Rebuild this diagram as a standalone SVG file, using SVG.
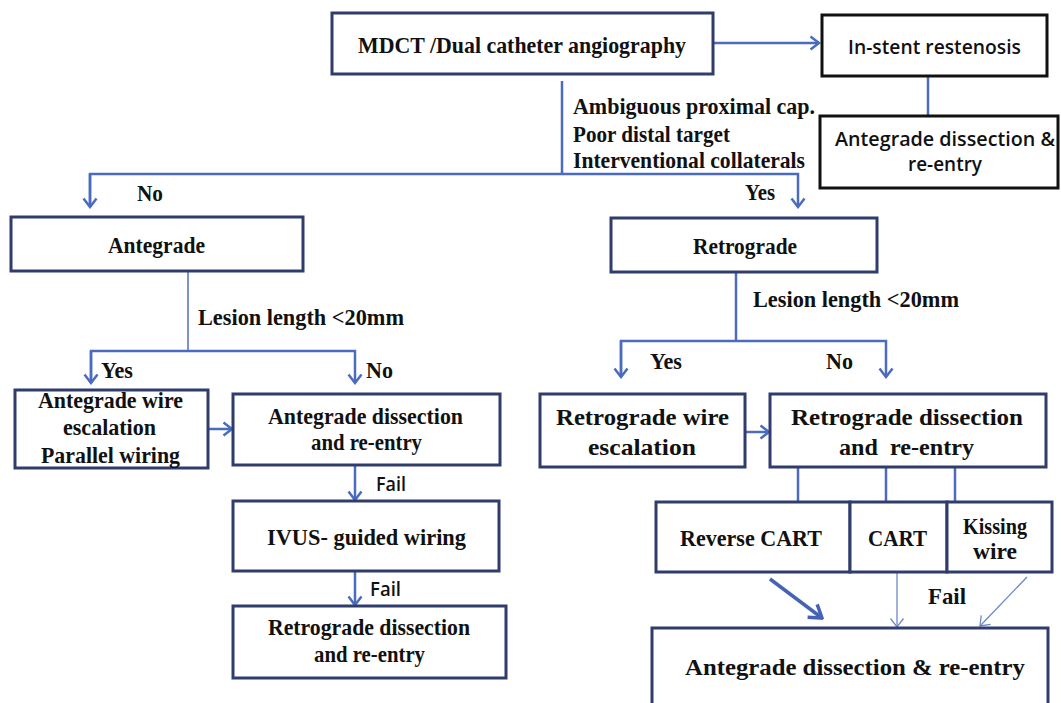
<svg xmlns="http://www.w3.org/2000/svg" width="1061" height="703" viewBox="0 0 1061 703">
<defs>
<marker id="ah" markerUnits="userSpaceOnUse" markerWidth="12" markerHeight="16" viewBox="0 0 12 16" refX="10" refY="8" orient="auto">
<path d="M1.5,1.5 L10,8 L1.5,14.5" fill="none" stroke="#4a6bbf" stroke-width="2.5"/>
</marker>
<marker id="ahthin" markerUnits="userSpaceOnUse" markerWidth="12" markerHeight="16" viewBox="0 0 12 16" refX="10" refY="8" orient="auto">
<path d="M1.5,1.5 L10,8 L1.5,14.5" fill="none" stroke="#6f88c8" stroke-width="1.3"/>
</marker>
<marker id="ahbig" markerUnits="userSpaceOnUse" markerWidth="16" markerHeight="20" viewBox="0 0 16 20" refX="14" refY="10" orient="auto">
<path d="M2,2 L14,10 L2,18" fill="none" stroke="#4562b5" stroke-width="3.5"/>
</marker>
</defs>
<style>
.box{fill:#fff;stroke:#2f3c6c;stroke-width:3}
.bbox{fill:#fff;stroke:#111;stroke-width:3}
.c{fill:none;stroke:#4a6bbf;stroke-width:2.5}
.ct{fill:none;stroke:#6f88c8;stroke-width:1.3}
.t{font-family:"Liberation Serif","Times New Roman",serif;font-weight:bold;font-size:23.5px;fill:#111}
.s{font-family:"Open Sans","Liberation Sans",sans-serif;font-weight:600;font-size:19.5px;fill:#111}
.m{text-anchor:middle}
</style>
<rect width="1061" height="703" fill="#fff"/>

<g id="connectors">
<line class="c" x1="713" y1="43" x2="819" y2="43" marker-end="url(#ah)"/>
<line class="c" x1="928" y1="76" x2="928" y2="116"/>
<line class="c" x1="562" y1="81" x2="562" y2="174"/>
<polyline class="c" points="90,207 90,174 798,174 798,207" marker-end="url(#ah)"/>
<line class="c" x1="90" y1="174" x2="90" y2="207" marker-end="url(#ah)"/>
<line class="ct" x1="188" y1="271" x2="188" y2="351" style="stroke-width:1.8"/>
<polyline class="c" points="91,383 91,351 355,351 355,383" marker-end="url(#ah)"/>
<line class="c" x1="91" y1="351" x2="91" y2="383" marker-end="url(#ah)"/>
<line class="c" x1="208" y1="429" x2="232" y2="429" marker-end="url(#ah)"/>
<line class="c" x1="355" y1="465" x2="355" y2="500" marker-end="url(#ah)"/>
<line class="c" x1="355" y1="571" x2="355" y2="605" marker-end="url(#ah)"/>
<line class="c" x1="736" y1="272" x2="736" y2="341"/>
<polyline class="c" points="621,377 621,341 886,341 886,377" marker-end="url(#ah)"/>
<line class="c" x1="621" y1="341" x2="621" y2="377" marker-end="url(#ah)"/>
<line class="c" x1="745" y1="432" x2="769" y2="432" marker-end="url(#ah)"/>
<line class="c" x1="798" y1="467" x2="798" y2="502"/>
<line class="c" x1="886" y1="467" x2="886" y2="502"/>
<line class="c" x1="955" y1="467" x2="955" y2="502"/>
<line fill="none" stroke="#4562b5" stroke-width="3.5" x1="770" y1="579" x2="822" y2="618" marker-end="url(#ahbig)"/>
<line class="ct" x1="897" y1="572" x2="897" y2="627" marker-end="url(#ahthin)"/>
<line class="ct" x1="1027" y1="577" x2="980" y2="626" marker-end="url(#ahthin)"/>
</g>

<g id="mdct">
<rect class="box" x="332" y="13" width="381" height="61"/>
<text class="t m" x="522" y="53" textLength="328" lengthAdjust="spacingAndGlyphs">MDCT /Dual catheter angiography</text>
</g>
<g id="instent">
<rect class="bbox" x="822" y="15" width="225" height="61"/>
<text class="s m" x="934.5" y="54" textLength="173" lengthAdjust="spacingAndGlyphs">In-stent restenosis</text>
</g>
<g id="adre-top">
<rect class="bbox" x="820" y="116" width="238" height="72"/>
<text class="s m" x="945" y="146" textLength="220" lengthAdjust="spacingAndGlyphs">Antegrade dissection &amp;</text>
<text class="s m" x="945" y="171" textLength="74" lengthAdjust="spacingAndGlyphs">re-entry</text>
</g>
<g id="criteria">
<text class="t" x="573" y="114" textLength="242" lengthAdjust="spacingAndGlyphs">Ambiguous proximal cap.</text>
<text class="t" x="573" y="142" textLength="157" lengthAdjust="spacingAndGlyphs">Poor distal target</text>
<text class="t" x="573" y="168" textLength="232" lengthAdjust="spacingAndGlyphs">Interventional collaterals</text>
</g>
<g id="labels">
<text class="t" x="137" y="201" textLength="26" lengthAdjust="spacingAndGlyphs">No</text>
<text class="t" x="745" y="200" textLength="30" lengthAdjust="spacingAndGlyphs">Yes</text>
<text class="t" x="198" y="325" textLength="206" lengthAdjust="spacingAndGlyphs">Lesion length &lt;20mm</text>
<text class="t" x="753" y="307" textLength="206" lengthAdjust="spacingAndGlyphs">Lesion length &lt;20mm</text>
<text class="t" x="101" y="378" textLength="32" lengthAdjust="spacingAndGlyphs">Yes</text>
<text class="t" x="366" y="378" textLength="27" lengthAdjust="spacingAndGlyphs">No</text>
<text class="t" x="650" y="369" textLength="32" lengthAdjust="spacingAndGlyphs">Yes</text>
<text class="t" x="826" y="369" textLength="27" lengthAdjust="spacingAndGlyphs">No</text>
<text class="s" x="376" y="491" font-size="18" textLength="30" lengthAdjust="spacingAndGlyphs">Fail</text>
<text class="s" x="370" y="596" font-size="18" textLength="31" lengthAdjust="spacingAndGlyphs">Fail</text>
<text class="t" x="928" y="604" font-size="24" textLength="38" lengthAdjust="spacingAndGlyphs">Fail</text>
</g>
<g id="antegrade">
<rect class="box" x="11" y="217" width="292" height="54"/>
<text class="t m" x="156.5" y="253" textLength="97" lengthAdjust="spacingAndGlyphs">Antegrade</text>
</g>
<g id="retrograde">
<rect class="box" x="611" y="218" width="266" height="54"/>
<text class="t m" x="745" y="254" textLength="104" lengthAdjust="spacingAndGlyphs">Retrograde</text>
</g>
<g id="awe">
<rect class="box" x="15" y="390" width="193" height="78"/>
<text class="t m" x="110.5" y="408" textLength="145" lengthAdjust="spacingAndGlyphs">Antegrade wire</text>
<text class="t m" x="109.5" y="435" textLength="93" lengthAdjust="spacingAndGlyphs">escalation</text>
<text class="t m" x="110.5" y="463" textLength="139" lengthAdjust="spacingAndGlyphs">Parallel wiring</text>
</g>
<g id="adre-left">
<rect class="box" x="233" y="394" width="267" height="71"/>
<text class="t m" x="365.5" y="424" textLength="195" lengthAdjust="spacingAndGlyphs">Antegrade dissection</text>
<text class="t m" x="366.5" y="450" textLength="111" lengthAdjust="spacingAndGlyphs">and re-entry</text>
</g>
<g id="ivus">
<rect class="box" x="233" y="501" width="266" height="70"/>
<text class="t m" x="366.5" y="545" textLength="199" lengthAdjust="spacingAndGlyphs">IVUS- guided wiring</text>
</g>
<g id="rdre-left">
<rect class="box" x="233" y="606" width="273" height="72"/>
<text class="t m" x="369" y="635" textLength="202" lengthAdjust="spacingAndGlyphs">Retrograde dissection</text>
<text class="t m" x="369.5" y="662" textLength="111" lengthAdjust="spacingAndGlyphs">and re-entry</text>
</g>
<g id="rwe">
<rect class="box" x="540" y="394" width="205" height="73"/>
<text class="t m" x="642.5" y="425" font-size="26" textLength="173" lengthAdjust="spacingAndGlyphs">Retrograde wire</text>
<text class="t m" x="642" y="455" font-size="26" textLength="108" lengthAdjust="spacingAndGlyphs">escalation</text>
</g>
<g id="rdre-right">
<rect class="box" x="770" y="394" width="276" height="73"/>
<text class="t m" x="907" y="425" font-size="26" textLength="232" lengthAdjust="spacingAndGlyphs">Retrograde dissection</text>
<text class="t m" x="906.5" y="455" font-size="26" textLength="135" lengthAdjust="spacingAndGlyphs" style="white-space:pre">and  re-entry</text>
</g>
<g id="reverse-cart">
<rect class="box" x="656" y="502" width="194" height="70"/>
<text class="t m" x="751" y="546" textLength="142" lengthAdjust="spacingAndGlyphs">Reverse CART</text>
</g>
<g id="cart">
<rect class="box" x="850" y="502" width="97" height="70"/>
<text class="t m" x="897.5" y="546" textLength="59" lengthAdjust="spacingAndGlyphs">CART</text>
</g>
<g id="kissing">
<rect class="box" x="947" y="502" width="105" height="70"/>
<text class="t m" x="995" y="534" textLength="64" lengthAdjust="spacingAndGlyphs">Kissing</text>
<text class="t m" x="995" y="559" textLength="44" lengthAdjust="spacingAndGlyphs">wire</text>
</g>
<g id="adre-bottom">
<rect class="box" x="652" y="628" width="396" height="90"/>
<text class="t m" x="855" y="675" font-size="27" textLength="340" lengthAdjust="spacingAndGlyphs">Antegrade dissection &amp; re-entry</text>
</g>
</svg>
